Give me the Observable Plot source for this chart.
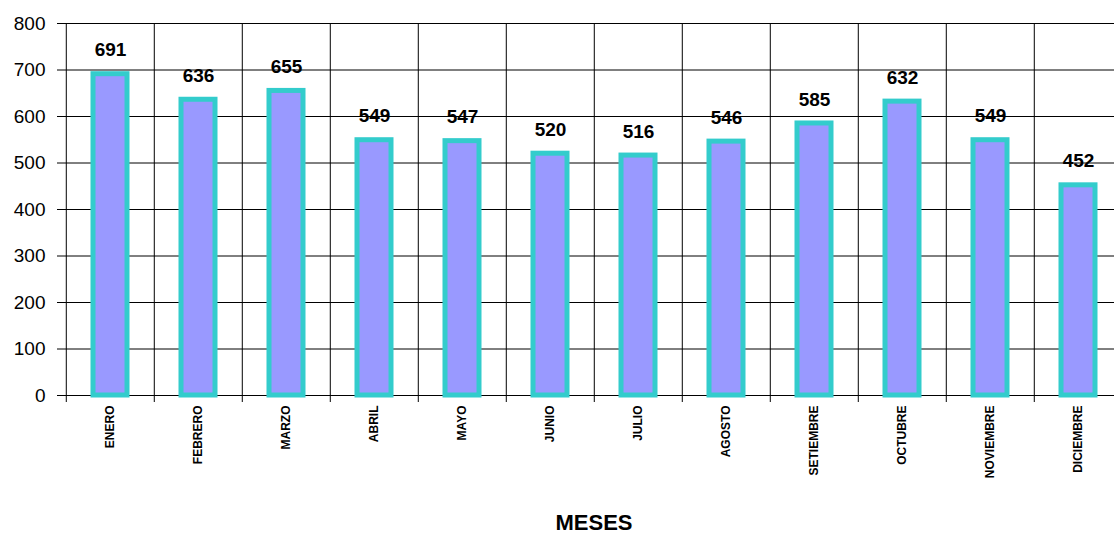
<!DOCTYPE html>
<html><head><meta charset="utf-8">
<script src="https://cdn.jsdelivr.net/npm/d3@7"></script>
<script src="https://cdn.jsdelivr.net/npm/@observablehq/plot@0.6"></script>
<style>
html,body{margin:0;padding:0;background:#fff;overflow:hidden;width:1114px;height:534px;}
svg{overflow:hidden;}
</style></head>
<body><div id="chart"></div>
<script>
const months = ["ENERO","FEBRERO","MARZO","ABRIL","MAYO","JUNIO","JULIO","AGOSTO","SETIEMBRE","OCTUBRE","NOVIEMBRE","DICIEMBRE"];
const values = [691,636,655,549,547,520,516,546,585,632,549,452];
const yTicks = [0,100,200,300,400,500,600,700,800];
const xTitle = "MESES";

const data = months.map((m,i)=>({mes:m, valor:values[i]}));
const W = 1114, H = 534, mL = 63, mR = -10, mT = 23, mB = 139;
const bw = (W - mL - mR) / months.length;
const font = "'Liberation Sans', Arial, sans-serif";

const chart = Plot.plot({
  width: W, height: H,
  marginLeft: mL, marginRight: mR, marginTop: mT, marginBottom: mB,
  style: {fontFamily: font, background: "#fff", overflow: "hidden"},
  x: {domain: months, padding: 0, axis: null, label: null},
  y: {domain: [0, 800], axis: null, label: null},
  marks: [
    Plot.ruleY(yTicks, {stroke: "#000", strokeWidth: 1}),
    Plot.ruleX(months, {x: d=>d, dx: -bw/2, y1: 800, y2: 0, insetBottom: -7, stroke: "#000", strokeWidth: 1}),
    Plot.barY(data, {x: "mes", y: "valor", fill: "#9999ff", stroke: "#33cccc", strokeWidth: 5, insetLeft: 27, insetRight: 27}),
    Plot.text(data, {x: "mes", y: "valor", text: d=>String(d.valor), dy: -24, fontSize: 19, fontWeight: "bold", fill: "#000"}),
    Plot.axisY({ticks: yTicks, label: null, tickSize: 6, tickPadding: 12, fontSize: 19, tickFormat: d=>String(d), stroke:"#000"}),
    Plot.axisX({label: null, tickSize: 0, tickRotate: -90, tickPadding: 10, fontSize: 12, fontWeight: "bold", textAnchor: "end"}),
    Plot.text([xTitle], {frameAnchor: "bottom", text: d=>d, dy: 134, lineAnchor: "bottom", fontSize: 22, fontWeight: "bold"})
  ]
});
document.getElementById("chart").appendChild(chart);
</script></body></html>
